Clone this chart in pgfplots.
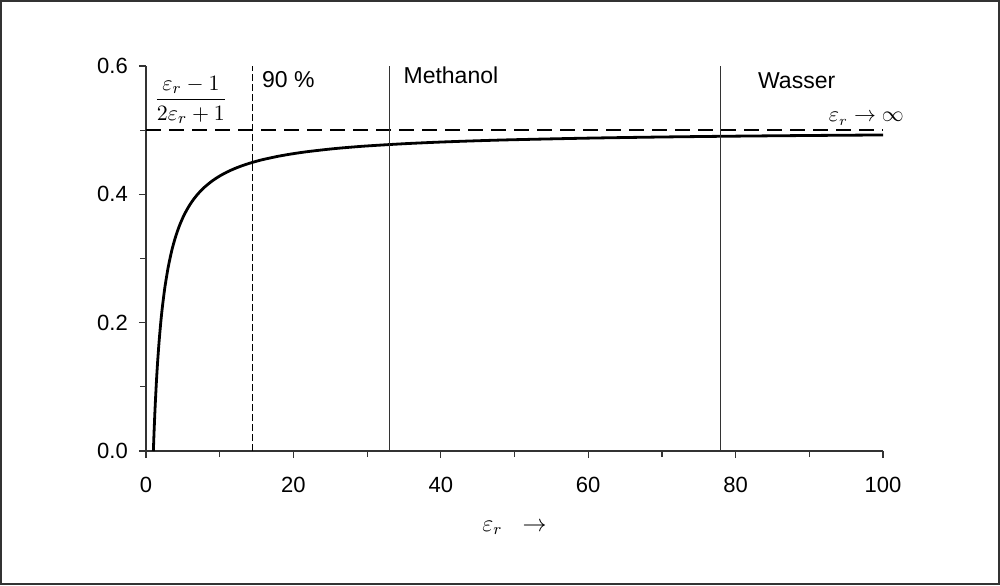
\documentclass[border=0pt]{standalone}
\usepackage{pgfplots}
\pgfplotsset{compat=1.18}
\usepackage{amsmath}
\usepackage{fontspec}
\setmainfont{Liberation Sans}
\begin{document}
\begin{tikzpicture}
\useasboundingbox (0,0) rectangle (500pt,292.5pt);
\draw[line width=1pt, black!80] (0.6pt,0.6pt) rectangle (499.4pt,291.9pt);
\begin{axis}[
  at={(73pt,67pt)}, anchor=south west,
  scale only axis, width=368.5pt, height=192.5pt,
  xmin=0, xmax=100, ymin=0, ymax=0.6,
  axis lines=left, axis line style={-, black!80, line width=0.6pt},
  xtick pos=left, ytick pos=left,
  tick align=outside, tick style={black!80, line width=0.6pt},
  major tick length=3.6pt, minor tick length=3pt,
  xtick={0,20,40,60,80,100}, minor xtick={10,30,50,70,90},
  ytick={0,0.2,0.4,0.6}, minor ytick={0.1,0.3,0.5},
  yticklabel style={xshift=-2pt, /pgf/number format/.cd, fixed, fixed zerofill, precision=1},
  /pgf/number format/assume math mode=true,
  ticklabel style={font=\fontsize{11}{13}\selectfont},
  xticklabel style={yshift=-6pt},
  clip=false,
]
\addplot[black, line width=1.4pt, smooth, tension=0.5] coordinates {
(1,0) (1.05,0.01613) (1.1,0.03125) (1.2,0.05882) (1.25,0.07143) (1.4,0.10526) (1.5,0.125)
(1.6,0.14286) (1.75,0.16667) (1.8,0.17391) (2,0.2) (2.2,0.22222) (2.5,0.25) (2.6,0.25806)
(3,0.28571) (3.5,0.3125) (4,0.33333) (4.5,0.35) (5,0.36364) (5.5,0.375) (6,0.38462)
(6.5,0.39286) (7,0.4) (7.5,0.40625) (8,0.41176) (9,0.42105) (10,0.42857) (11,0.43478)
(12,0.44) (13,0.44444) (14,0.44828) (15,0.45161) (16,0.45455) (18,0.45946) (20,0.46341)
(22,0.46667) (25,0.47059) (27,0.47273) (30,0.47541) (35,0.47887) (40,0.48148) (45,0.48352)
(50,0.48515) (60,0.48760) (70,0.48936) (80,0.49068) (90,0.49171) (100,0.49254)
};
\addplot[black, line width=1pt, dash pattern=on 7.5pt off 4pt] coordinates {(0,0.5) (100,0.5)};
\addplot[black, line width=0.6pt, dash pattern=on 3.5pt off 1.5pt] coordinates {(14.5,0) (14.5,0.6)};
\addplot[black!80, line width=0.6pt] coordinates {(33,0) (33,0.6)};
\addplot[black!80, line width=0.6pt] coordinates {(78,0) (78,0.6)};
\node[anchor=base west, font=\fontsize{11.5}{13}\selectfont, inner sep=0pt] at (axis cs:15.7,0.566) {90 \%};
\node[anchor=base west, font=\fontsize{11.5}{13}\selectfont, inner sep=0pt] at (axis cs:34.9,0.572) {Methanol};
\node[anchor=base west, font=\fontsize{11.5}{13}\selectfont, inner sep=0pt] at (axis cs:83.0,0.565) {Wasser};
\node[anchor=base west, inner sep=0pt, font=\fontsize{10.5}{13}\selectfont] at (axis cs:92.6,0.513) {$\varepsilon_r\rightarrow\infty$};
\node[anchor=center, inner sep=0pt, font=\fontsize{11}{13}\selectfont] at (axis cs:6.1,0.547) {$\dfrac{\varepsilon_r-1}{2\varepsilon_r+1}$};
\node[anchor=center, inner sep=0pt, font=\fontsize{11.5}{13}\selectfont] at (axis cs:50,-0.12) {$\varepsilon_r\;\;\rightarrow$};
\end{axis}
\end{tikzpicture}
\end{document}
